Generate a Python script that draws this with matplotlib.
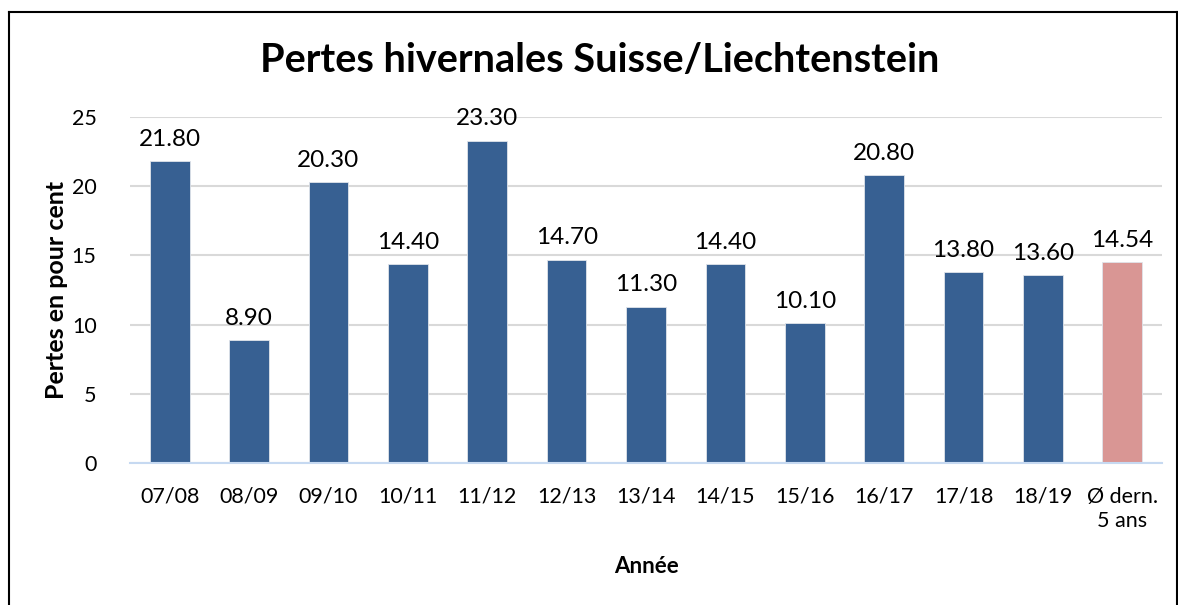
import matplotlib.pyplot as plt
from matplotlib.lines import Line2D

# Données
annees = ["07/08", "08/09", "09/10", "10/11", "11/12", "12/13", "13/14",
          "14/15", "15/16", "16/17", "17/18", "18/19", "Ø dern.\n5 ans"]
pertes = [21.8, 8.9, 20.3, 14.4, 23.3, 14.7, 11.3, 14.4, 10.1, 20.8, 13.8, 13.6, 14.54]
couleurs = ["#376092"] * 12 + ["#D99694"]

plt.rcParams['font.family'] = ['Lato', 'DejaVu Sans']

fig = plt.figure(figsize=(11.78, 6.05), dpi=100)
ax = fig.add_axes([130 / 1178, 1 - 463 / 605, 1032 / 1178, (463 - 117) / 605])

x = range(len(annees))
ax.bar(x, pertes, width=0.5, color=couleurs, edgecolor="#E0E4EA", linewidth=0.6, zorder=3)

for i, v in enumerate(pertes):
    ax.annotate(f"{v:.2f}", (i, v), xytext=(0, 8), textcoords="offset points",
                ha="center", va="bottom", fontsize=17.5)

ax.set_xlim(-0.5, len(annees) - 0.5)
ax.set_ylim(0, 25)
ax.set_yticks([0, 5, 10, 15, 20, 25])
ax.set_xticks(list(x))
ax.set_xticklabels(annees, fontsize=15.5, linespacing=1.25)
ax.tick_params(axis="y", labelsize=15.5, length=0, pad=24)
ax.tick_params(axis="x", length=0, pad=17)

ax.grid(axis="y", color="#D9D9D9", linewidth=1.5, zorder=0)
for s in ["top", "right", "left"]:
    ax.spines[s].set_visible(False)
ax.spines["bottom"].set_color("#C6D9F1")
ax.spines["bottom"].set_linewidth(1.5)
ax.spines["bottom"].set_zorder(4)

ax.set_ylabel("Pertes en pour cent", fontsize=18, fontweight="bold", labelpad=3)
ax.set_xlabel("Année", fontsize=16, fontweight="bold", labelpad=18)

fig.text(600 / 1178, 1 - 60 / 605, "Pertes hivernales Suisse/Liechtenstein",
         ha="center", va="center", fontsize=28.5, fontweight="bold")

# cadre
fig.add_artist(Line2D([8.5 / 1178, 8.5 / 1178], [0, 1 - 11.5 / 605],
                      transform=fig.transFigure, color="black", linewidth=1.5))
fig.add_artist(Line2D([8.5 / 1178, 1], [1 - 11.5 / 605, 1 - 11.5 / 605],
                      transform=fig.transFigure, color="black", linewidth=1.5))
fig.add_artist(Line2D([1176.5 / 1178, 1176.5 / 1178], [0, 1 - 11.5 / 605],
                      transform=fig.transFigure, color="black", linewidth=1.5))

fig.savefig("out.png", dpi=100)
